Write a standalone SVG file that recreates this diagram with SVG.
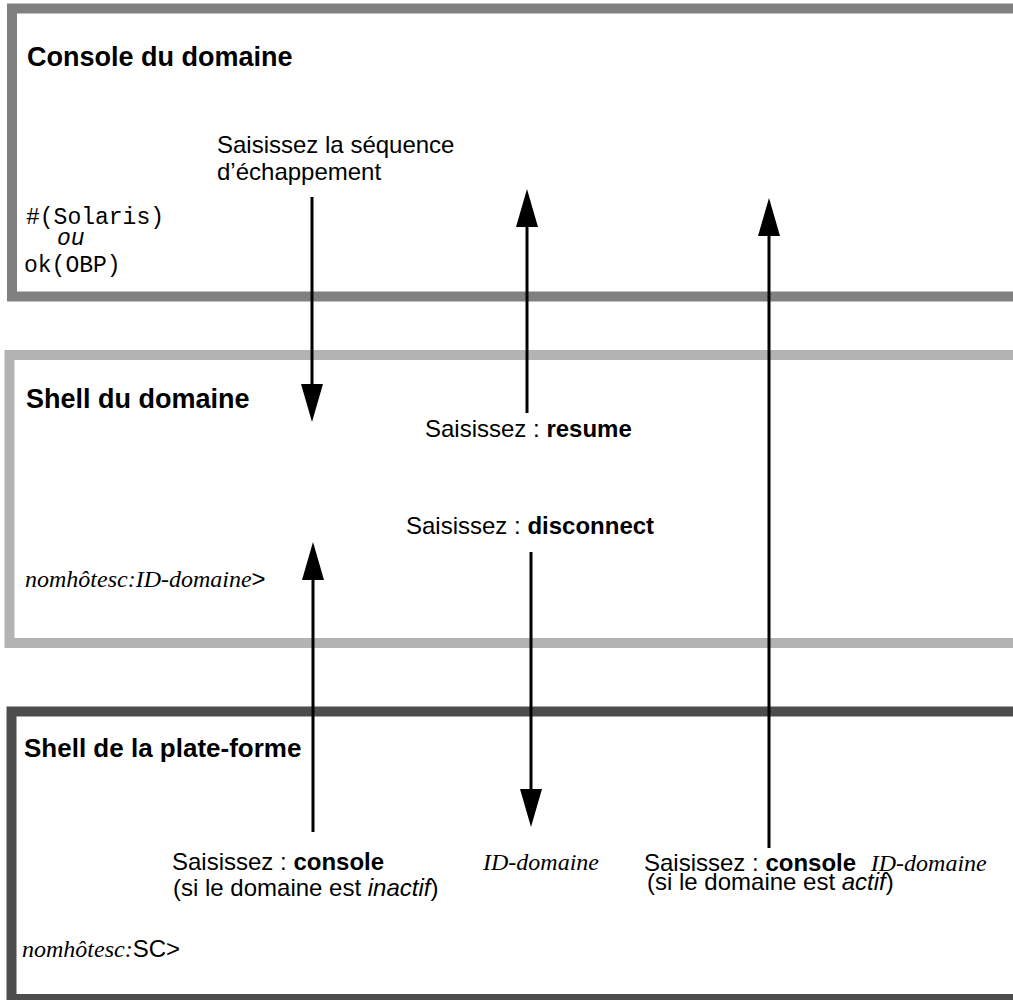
<svg xmlns="http://www.w3.org/2000/svg" width="1013" height="1000" viewBox="0 0 1013 1000">
<style>
.sans{font-family:"Liberation Sans",Arial,sans-serif;font-size:24px;fill:#000}
.title{font-family:"Liberation Sans",Arial,sans-serif;font-weight:bold;fill:#000}
.mono{font-family:"Liberation Mono","Courier New",monospace;font-size:23px;fill:#000}
.ser{font-family:"Liberation Serif","Times New Roman",serif;font-style:italic;font-size:24px}
.b{font-weight:bold}
.i{font-style:italic}
.conn{stroke:#000;stroke-width:3;fill:none;marker-end:url(#ah)}
</style>
<defs>
<marker id="ah" viewBox="0 0 38 22" refX="28" refY="11" markerWidth="38" markerHeight="22" markerUnits="userSpaceOnUse" orient="auto">
<path d="M0,0 L38,11 L0,22 Z" fill="#000"/>
</marker>
</defs>
<rect width="1013" height="1000" fill="#fff"/>
<g id="console-domaine">
<rect x="12" y="8.5" width="1010" height="288" fill="none" stroke="#808080" stroke-width="10"/>
<text class="title" x="27" y="66" font-size="27">Console du domaine</text>
<text class="mono" x="26" y="224">#(Solaris)</text>
<text class="mono i" x="57" y="245">ou</text>
<text class="mono" x="24" y="272">ok(OBP)</text>
</g>
<g id="shell-domaine">
<rect x="9.5" y="355" width="1010" height="288" fill="none" stroke="#b3b3b3" stroke-width="10"/>
<text class="title" x="26" y="408" font-size="27">Shell du domaine</text>
<text class="sans" x="25" y="587"><tspan class="ser">nomhôtesc:ID-domaine</tspan>&gt;</text>
</g>
<g id="shell-plateforme">
<rect x="11.5" y="711.5" width="1010" height="287.5" fill="none" stroke="#4d4d4d" stroke-width="10"/>
<text class="title" x="24" y="757" font-size="26">Shell de la plate-forme</text>
<text class="sans" x="22" y="957"><tspan class="ser">nomhôtesc:</tspan>SC&gt;</text>
</g>
<g id="connectors">
<line class="conn" x1="312" y1="197" x2="312" y2="412"/>
<line class="conn" x1="527" y1="413" x2="527" y2="199"/>
<line class="conn" x1="769" y1="848" x2="769" y2="208"/>
<line class="conn" x1="313" y1="832" x2="313" y2="552"/>
<line class="conn" x1="531" y1="552" x2="531" y2="817"/>
</g>
<g id="labels">
<text class="sans" x="217" y="152.5">Saisissez la séquence</text>
<text class="sans" x="217" y="180">d’échappement</text>
<text class="sans" x="425" y="437">Saisissez : <tspan class="b">resume</tspan></text>
<text class="sans" x="406" y="534">Saisissez : <tspan class="b">disconnect</tspan></text>
<text class="sans" x="172" y="870">Saisissez : <tspan class="b">console</tspan></text>
<text class="sans" x="173" y="896">(si le domaine est <tspan class="i">inactif</tspan>)</text>
<text class="ser" x="483" y="870">ID-domaine</text>
<text class="sans" x="644" y="871">Saisissez : <tspan class="b">console</tspan> <tspan class="ser" dx="8">ID-domaine</tspan></text>
<text class="sans" x="647" y="890">(si le domaine est <tspan class="i">actif</tspan>)</text>
</g>
</svg>
